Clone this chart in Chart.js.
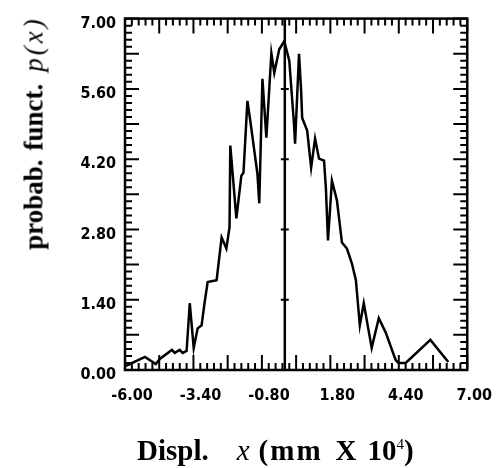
<!DOCTYPE html>
<html lang="en">
<head>
  <meta charset="UTF-8" />
  <title>probab. funct. p(x)</title>
  <script src="https://cdn.jsdelivr.net/npm/chart.js"></script>
  <style>
    html, body { margin: 0; padding: 0; background: #fff; }
    #wrap { position: relative; width: 501px; height: 468px; }
    #wrap canvas { position: absolute; left: 0; top: 0; }
    .ttl { position: absolute; font-family: 'Liberation Serif', 'Times New Roman', serif; font-weight: bold;
           line-height: 1; color: #000; white-space: nowrap; }
    .ttl i { font-weight: normal; }
  </style>
</head>
<body>
  <div id="wrap">
    <canvas id="chart" width="501" height="468"></canvas>
    <div id="yTitle" class="ttl" style="font-size:27px; left:34px; top:133px; transform:translate(-50%,-50%) rotate(-90deg);">probab.<span style="margin-left:9px">funct.</span><i style="margin-left:12px; letter-spacing:3px">p(x)</i></div>
    <div id="xTitle" class="ttl" style="font-size:29px; left:137px; top:436px;">Displ.<i style="margin-left:28px">x</i><span style="margin-left:9px; letter-spacing:2px">(mm</span><span style="margin-left:13px">X</span><span style="margin-left:11px">10<sup style="font-size:15px; font-weight:normal; vertical-align:11px">4</sup>)</span></div>
  </div>

  <script>
    // displacement (mm x 10^4) and probability values
    const xData = [-6.00, -5.89, -5.24, -4.83, -4.68, -4.22, -4.11, -3.92, -3.81, -3.66,
                   -3.54, -3.39, -3.24, -3.09, -2.98, -2.86, -2.52, -2.33, -2.15, -2.03,
                   -2.00, -1.77, -1.58, -1.50, -1.35, -1.24, -0.97, -0.90, -0.78, -0.63,
                   -0.44, -0.33, -0.14, 0.05, 0.24, 0.42, 0.46, 0.61, 0.69, 0.73,
                   0.92, 1.07, 1.22, 1.37, 1.56, 1.63, 1.71, 1.86, 2.05, 2.24,
                   2.43, 2.62, 2.77, 2.92, 3.07, 3.37, 3.64, 3.90, 4.28, 4.39,
                   4.66, 5.60, 6.28];
    const pData = [0.08, 0.10, 0.26, 0.12, 0.22, 0.40, 0.34, 0.40, 0.34, 0.38,
                   1.33, 0.44, 0.83, 0.89, 1.33, 1.75, 1.79, 2.64, 2.42, 2.84,
                   4.47, 3.02, 3.87, 3.93, 5.36, 4.96, 3.91, 3.32, 5.80, 4.63,
                   6.31, 5.92, 6.39, 6.55, 6.16, 4.90, 4.51, 6.30, 5.56, 5.02,
                   4.77, 4.03, 4.61, 4.21, 4.17, 3.63, 2.58, 3.77, 3.38, 2.54,
                   2.42, 2.12, 1.79, 0.89, 1.33, 0.44, 1.03, 0.75, 0.20, 0.14,
                   0.14, 0.60, 0.16];

    // vertical reference line and its cross marks
    const meanX = 0.07;
    const markY = [1.4, 2.8, 4.2, 5.6];

    const xTickLabels = [-6.0, -3.4, -0.8, 1.8, 4.4, 7.0];
    const yTickLabels = [0.0, 1.4, 2.8, 4.2, 5.6, 7.0];
    const X_MIN = -6, X_MAX = 7, Y_MIN = 0, Y_MAX = 7;
    const X_MINOR = 0.26, Y_MINOR = 0.14;

    const tickFont = { family: "'Liberation Sans Narrow', 'DejaVu Sans Condensed', 'Liberation Sans', sans-serif", size: 16, weight: 'bold' };

    // inward tick marks on all four sides plus the heavy frame
    const frameTicks = {
      id: 'frameTicks',
      afterDatasetsDraw(chart) {
        const { ctx, chartArea: a, scales: { x, y } } = chart;
        ctx.save();
        ctx.strokeStyle = '#000';
        ctx.lineWidth = 2;
        ctx.beginPath();
        const nx = Math.round((X_MAX - X_MIN) / X_MINOR);
        for (let i = 0; i <= nx; i++) {
          const px = x.getPixelForValue(X_MIN + i * X_MINOR);
          const len = i % 5 === 0 ? 15 : 7;
          ctx.moveTo(px, a.bottom); ctx.lineTo(px, a.bottom - len);
          ctx.moveTo(px, a.top); ctx.lineTo(px, a.top + len);
        }
        const ny = Math.round((Y_MAX - Y_MIN) / Y_MINOR);
        for (let i = 0; i <= ny; i++) {
          const py = y.getPixelForValue(Y_MIN + i * Y_MINOR);
          const len = i % 5 === 0 ? 14 : 7;
          ctx.moveTo(a.left, py); ctx.lineTo(a.left + len, py);
          ctx.moveTo(a.right, py); ctx.lineTo(a.right - len, py);
        }
        ctx.stroke();
        ctx.lineWidth = 2.5;
        ctx.strokeRect(a.left, a.top, a.width, a.height);
        ctx.restore();
      }
    };

    new Chart(document.getElementById('chart'), {
      type: 'line',
      data: {
        datasets: [
          {
            data: xData.map((v, i) => ({ x: v, y: pData[i] })),
            borderColor: '#000', borderWidth: 2.5, pointRadius: 0, tension: 0
          },
          {
            data: [{ x: meanX, y: Y_MIN }, { x: meanX, y: Y_MAX }],
            borderColor: '#000', borderWidth: 2.5, pointRadius: 0
          },
          {
            data: markY.map(v => ({ x: meanX, y: v })),
            showLine: false, pointStyle: 'line', pointRadius: 4,
            borderColor: '#000', borderWidth: 2
          }
        ]
      },
      options: {
        responsive: false,
        animation: false,
        layout: { padding: { top: 17, right: 32, left: 0, bottom: 0 } },
        plugins: { legend: { display: false }, tooltip: { enabled: false } },
        scales: {
          x: {
            type: 'linear', min: X_MIN, max: X_MAX,
            grid: { display: false, drawTicks: false },
            border: { display: false },
            afterBuildTicks: s => { s.ticks = xTickLabels.map(v => ({ value: v })); },
            afterFit: s => { s.height = 98; },
            ticks: {
              color: '#000', font: tickFont, padding: 16, labelOffset: 7,
              maxRotation: 0, autoSkip: false,
              callback: v => v.toFixed(2)
            }
          },
          y: {
            type: 'linear', min: Y_MIN, max: Y_MAX,
            grid: { display: false, drawTicks: false },
            border: { display: false },
            afterBuildTicks: s => { s.ticks = yTickLabels.map(v => ({ value: v })); },
            afterFit: s => { s.width = 125; },
            ticks: {
              color: '#000', font: tickFont, padding: 9, labelOffset: 5,
              autoSkip: false,
              callback: v => v.toFixed(2)
            }
          }
        }
      },
      plugins: [frameTicks]
    });
  </script>
</body>
</html>
